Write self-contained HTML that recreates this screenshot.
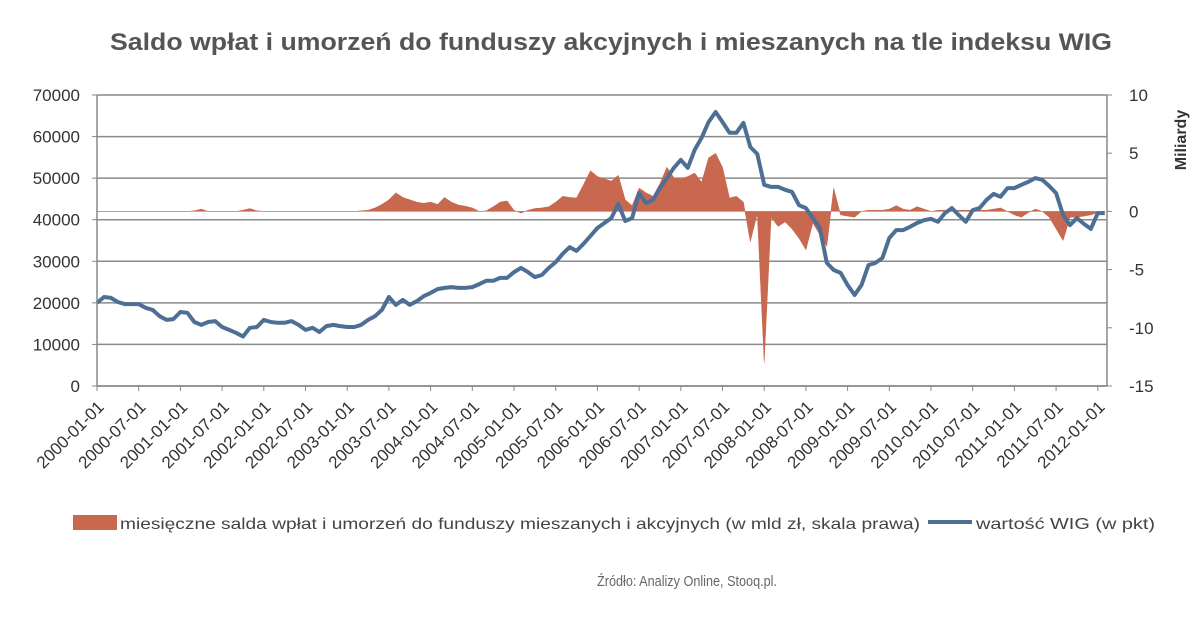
<!DOCTYPE html>
<html><head><meta charset="utf-8"><style>
body{margin:0;background:#fff;}
svg{display:block;font-family:"Liberation Sans",sans-serif;}
</style></head><body>
<svg id="chart" width="1200" height="621" viewBox="0 0 1200 621">
<text x="110" y="50" textLength="1002" lengthAdjust="spacingAndGlyphs" font-size="24" font-weight="bold" fill="#555">Saldo wpłat i umorzeń do funduszy akcyjnych i mieszanych na tle indeksu WIG</text>
<g id="grid"></g>
<g id="area"></g>
<g id="line"></g>
<g id="axes"></g>
<text transform="translate(1186,140) rotate(-90)" text-anchor="middle" font-size="16" font-weight="bold" fill="#333">Miliardy</text>
<g>
<rect x="73" y="515" width="44" height="15" fill="#c8684f"/>
<text x="120" y="529" textLength="800" lengthAdjust="spacingAndGlyphs" font-size="16" fill="#444">miesięczne salda wpłat i umorzeń do funduszy mieszanych i akcyjnych (w mld zł, skala prawa)</text>
<line x1="928" y1="522" x2="972" y2="522" stroke="#4e6f94" stroke-width="4"/>
<text x="976" y="529" textLength="179" lengthAdjust="spacingAndGlyphs" font-size="16" fill="#444">wartość WIG (w pkt)</text>
</g>
<text x="597" y="586" textLength="180" lengthAdjust="spacingAndGlyphs" font-size="15" fill="#666">Źródło: Analizy Online, Stooq.pl.</text>
</svg>
<script>
const wig=[20000,21400,21200,20200,19700,19700,19700,18800,18300,16800,15900,16100,17800,17600,15400,14700,15400,15600,14200,13500,12800,11900,14000,14200,15900,15400,15200,15200,15600,14700,13500,14000,13000,14400,14700,14400,14200,14200,14700,15900,16800,18300,21400,19500,20700,19500,20400,21600,22400,23300,23600,23800,23600,23600,23800,24500,25300,25300,26000,26000,27400,28400,27400,26200,26700,28400,29800,31800,33400,32500,34200,36100,38000,39200,40400,43800,39700,40400,46400,44000,44800,47600,50000,52500,54400,52500,56800,59700,63500,65900,63500,60900,60900,63300,57500,55800,48400,47900,47900,47200,46700,43500,42800,40400,38000,29600,27900,27200,24300,21900,24300,29100,29600,30800,35600,37500,37500,38300,39200,39900,40200,39500,41600,42800,41100,39500,42300,42800,44800,46200,45500,47600,47600,48400,49100,50000,49600,48100,46400,41100,38700,40400,39000,37800,41600,41600];
const flows=[0,0,0,0,0,0,0,0,0,0,0,0,0,0,0.05,0.2,0,0,0,0,0,0.1,0.25,0.05,0,0,0,0,0,0,0,0,0,0,0,0,0,0,0.05,0.1,0.3,0.6,1.0,1.6,1.2,1.0,0.8,0.7,0.8,0.6,1.2,0.8,0.55,0.45,0.3,0,0.05,0.4,0.8,0.9,0.1,-0.15,0.1,0.25,0.3,0.4,0.8,1.3,1.2,1.15,2.3,3.5,3.0,2.8,2.6,3.1,1.0,0.5,2.0,1.6,1.3,2.4,3.8,2.9,2.8,3.0,3.3,2.5,4.6,5.0,3.8,1.15,1.3,0.8,-2.6,-0.2,-13,-0.5,-1.3,-0.9,-1.5,-2.3,-3.3,-1.0,-2.0,-3.0,2.0,-0.3,-0.4,-0.5,0,0.1,0.1,0.1,0.2,0.5,0.2,0.1,0.4,0.2,0,0.1,0.1,0.1,0.1,0.1,0.1,0.1,0.1,0.2,0.3,0,-0.3,-0.5,-0.1,0.2,0,-0.5,-1.5,-2.5,-0.5,-0.5,-0.4,-0.3,-0.1,0];
const leftTicks=[0,10000,20000,30000,40000,50000,60000,70000];
const rightTicks=[-15,-10,-5,0,5,10];
const xLabels=["2000-01-01","2000-07-01","2001-01-01","2001-07-01","2002-01-01","2002-07-01","2003-01-01","2003-07-01","2004-01-01","2004-07-01","2005-01-01","2005-07-01","2006-01-01","2006-07-01","2007-01-01","2007-07-01","2008-01-01","2008-07-01","2009-01-01","2009-07-01","2010-01-01","2010-07-01","2011-01-01","2011-07-01","2012-01-01"];
const NS="http://www.w3.org/2000/svg";
const X0=97,X1=1107,Y0=386,Y1=95;
const xS=m=>X0+m*6.95;
const yL=v=>Y0-(v/70000)*(Y0-Y1);
const yR=v=>Y0-((v+15)/25)*(Y0-Y1);
function mk(t,a,p){const e=document.createElementNS(NS,t);for(const k in a)e.setAttribute(k,a[k]);p.appendChild(e);return e;}
const grid=document.getElementById('grid'),axes=document.getElementById('axes');
leftTicks.forEach(v=>{
 const l=mk('line',{x1:X0,x2:X1,y1:yL(v),y2:yL(v),stroke:'#8a8a8a','stroke-width':1.5},grid);
 
 
 const t=mk('text',{x:X0-17,y:yL(v)+6,'text-anchor':'end','font-size':17,fill:'#333'},axes);
 t.textContent=v;
 
 
 mk('line',{x1:X0-5,x2:X0,y1:yL(v),y2:yL(v),stroke:'#888'},axes);
});
rightTicks.forEach(v=>{
 const t=mk('text',{x:X1+22,y:yR(v)+6,'font-size':17,fill:'#333'},axes);
 t.textContent=v;
 
 
 mk('line',{x1:X1,x2:X1+5,y1:yR(v),y2:yR(v),stroke:'#888'},axes);
});
mk('line',{x1:X0,x2:X0,y1:Y1,y2:Y0,stroke:'#888','stroke-width':1.5},axes);
mk('line',{x1:X1,x2:X1,y1:Y1,y2:Y0,stroke:'#888','stroke-width':1.5},axes);
mk('line',{x1:X0,x2:X1,y1:Y0,y2:Y0,stroke:'#888','stroke-width':1.5},axes);
xLabels.forEach((s,i)=>{
 const x=xS(i*6);
 mk('line',{x1:x,x2:x,y1:Y0,y2:Y0+5,stroke:'#888'},axes);
 const t=mk('text',{transform:`translate(${x+8},${Y0+22}) rotate(-45)`,'text-anchor':'end','font-size':17,fill:'#333'},axes);
 t.textContent=s;
 
 
});
let d=`M${xS(0)},${yR(0)}`;
flows.forEach((v,i)=>{d+=` L${xS(i).toFixed(1)},${yR(v).toFixed(1)}`;});
d+=` L${xS(flows.length-1)},${yR(0)} Z`;
const ar=mk('path',{d:d,fill:'#c8684f',stroke:'#c8684f','stroke-width':0.5},document.getElementById('area'));


const pts=wig.map((v,i)=>`${xS(i).toFixed(1)},${yL(v).toFixed(1)}`).join(' ');
const ln=mk('polyline',{points:pts,fill:'none',stroke:'#4e6f94','stroke-width':4,'stroke-linejoin':'round'},document.getElementById('line'));


</script>
</body></html>
